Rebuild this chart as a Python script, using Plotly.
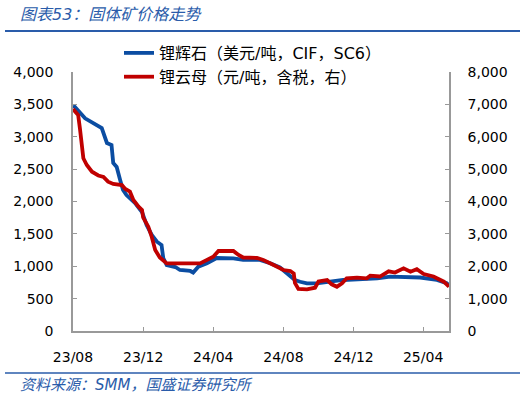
import plotly.graph_objects as go

# 锂辉石 (USD/t, CIF, SC6) - left axis
spod_dates = ["2023-08-01", "2023-08-04", "2023-08-22", "2023-09-11", "2023-09-20", "2023-09-29",
              "2023-10-07", "2023-10-10", "2023-10-16", "2023-10-22", "2023-10-27", "2023-11-02",
              "2023-11-17", "2023-11-29", "2023-12-07", "2023-12-16", "2023-12-25", "2024-01-02",
              "2024-01-05", "2024-01-11", "2024-01-26", "2024-02-03", "2024-02-21", "2024-02-26",
              "2024-03-06", "2024-03-21", "2024-04-07", "2024-05-06", "2024-05-23", "2024-06-21",
              "2024-07-09", "2024-07-26", "2024-08-07", "2024-08-16", "2024-08-21", "2024-08-30",
              "2024-09-11", "2024-09-28", "2024-10-16", "2024-11-13", "2025-01-11", "2025-02-03",
              "2025-03-27", "2025-04-25", "2025-05-12", "2025-05-16"]
spod_vals = [3480, 3464, 3285, 3181, 3135, 2904,
             2873, 2595, 2533, 2332, 2178, 2100,
             1977, 1838, 1637, 1483, 1379, 1328,
             1127, 1019, 988, 942, 927, 903,
             993, 1046, 1127, 1123, 1097, 1097,
             1046, 981, 891, 839, 788, 761,
             737, 737, 761, 788, 814, 839,
             826, 788, 737, 703]

# 锂云母 (CNY/t, tax incl.) - right axis
lepi_dates = ["2023-08-01", "2023-08-10", "2023-08-13", "2023-08-16", "2023-08-19", "2023-08-25",
              "2023-09-03", "2023-09-14", "2023-09-23", "2023-10-01", "2023-10-10", "2023-10-25",
              "2023-10-31", "2023-11-08", "2023-11-14", "2023-11-23", "2023-11-29", "2023-12-01",
              "2023-12-10", "2023-12-16", "2023-12-22", "2023-12-30", "2024-01-11", "2024-03-09",
              "2024-03-21", "2024-04-01", "2024-04-10", "2024-05-06", "2024-05-15", "2024-05-23",
              "2024-06-16", "2024-06-27", "2024-07-15", "2024-08-01", "2024-08-13", "2024-08-19",
              "2024-08-21", "2024-08-27", "2024-09-11", "2024-09-25", "2024-10-01", "2024-10-16",
              "2024-10-24", "2024-11-02", "2024-11-11", "2024-11-19", "2024-12-07", "2024-12-24",
              "2024-12-30", "2025-01-16", "2025-01-31", "2025-02-11", "2025-02-26", "2025-03-10",
              "2025-03-21", "2025-04-02", "2025-04-19", "2025-05-07", "2025-05-16"]
lepi_vals = [6857, 6672, 6261, 5643, 5334, 5127,
             4920, 4803, 4757, 4612, 4541, 4510,
             4386, 4303, 4046, 3839, 3737, 3506,
             3222, 2903, 2502, 2270, 2086, 2086,
             2193, 2295, 2471, 2471, 2347, 2270,
             2255, 2193, 2039, 1884, 1853, 1776,
             1483, 1297, 1288, 1337, 1529, 1575,
             1442, 1368, 1473, 1628, 1646, 1628,
             1708, 1683, 1844, 1807, 1937, 1832,
             1909, 1761, 1683, 1523, 1368]

left_ticks = [0, 500, 1000, 1500, 2000, 2500, 3000, 3500, 4000]
right_ticks = [0, 1000, 2000, 3000, 4000, 5000, 6000, 7000, 8000]

BLUE = "#0B4DA2"
RED = "#C00000"
TXT_BLUE = "#2A5CAA"
FONT = "DejaVu Sans, Noto Sans CJK SC"
W, H = 526, 398
L, R, T, B = 73, 77, 72, 67

fig = go.Figure()
fig.add_trace(go.Scatter(x=spod_dates, y=spod_vals, mode="lines", name="锂辉石（美元/吨，CIF，SC6）",
                         line=dict(color=BLUE, width=3.8), yaxis="y"))
fig.add_trace(go.Scatter(x=lepi_dates, y=lepi_vals, mode="lines", name="锂云母（元/吨，含税，右）",
                         line=dict(color=RED, width=3.8), yaxis="y2"))

axis_common = dict(showgrid=False, zeroline=False, showline=True, linecolor="#999999", linewidth=1.5,
                   ticks="inside", ticklen=4, tickcolor="#999999", automargin=False,
                   tickfont=dict(family=FONT, size=14, color="#000000"))

fig.update_layout(
    width=W, height=H,
    margin=dict(l=L, r=R, t=T, b=B, autoexpand=False),
    paper_bgcolor="white", plot_bgcolor="white",
    font=dict(family=FONT, color="#000000"),
    showlegend=True,
    legend=dict(xref="container", yref="container", x=119 / W, y=1 - 36 / H,
                xanchor="left", yanchor="top", bgcolor="rgba(0,0,0,0)",
                font=dict(family=FONT, size=16, color="#000000"), tracegroupgap=0),
    xaxis=dict(type="date", range=["2023-08-01", "2025-05-16"], tick0="2023-08-01", dtick="M4",
               tickformat="%y/%m", ticklabelstandoff=12, **axis_common),
    yaxis=dict(range=[0, 4000], tickvals=left_ticks, tickformat=",", ticklabelstandoff=15,
               **axis_common),
    yaxis2=dict(range=[0, 8000], tickvals=right_ticks, tickformat=",", overlaying="y", side="right",
                ticklabelstandoff=14, **axis_common),
)


def px_x(px):
    return (px - L) / (W - L - R)


def px_y(py):
    return (H - B - py) / (H - T - B)


fig.add_annotation(x=px_x(18), y=px_y(14), xref="paper", yref="paper", text="<i>图表53：固体矿价格走势</i>",
                   showarrow=False, xanchor="left", yanchor="middle",
                   font=dict(family=FONT, size=16, color=TXT_BLUE))
fig.add_annotation(x=px_x(18), y=px_y(385), xref="paper", yref="paper",
                   text="<i>资料来源：SMM，国盛证券研究所</i>",
                   showarrow=False, xanchor="left", yanchor="middle",
                   font=dict(family=FONT, size=15, color=TXT_BLUE))

fig.add_shape(type="line", xref="paper", yref="paper", x0=px_x(5), x1=px_x(520), y0=px_y(31), y1=px_y(31),
              line=dict(color=TXT_BLUE, width=2))
fig.add_shape(type="line", xref="paper", yref="paper", x0=px_x(5), x1=px_x(520), y0=px_y(373), y1=px_y(373),
              line=dict(color=TXT_BLUE, width=1.5))

fig.write_html("out.html", config={"displayModeBar": False},
               post_script="document.body.style.margin='0';document.body.style.padding='0';")
